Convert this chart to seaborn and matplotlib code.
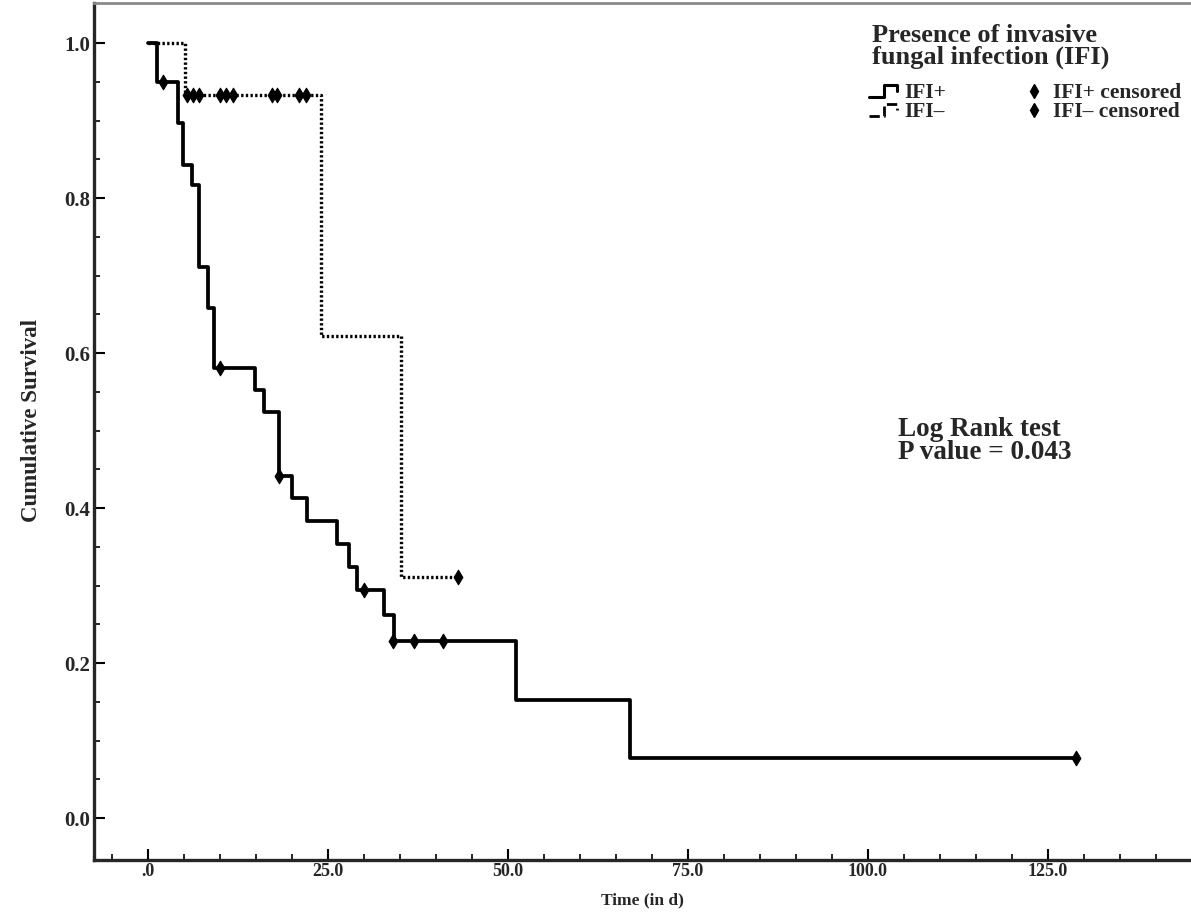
import numpy as np
import pandas as pd
import matplotlib
matplotlib.use("Agg")
import matplotlib.pyplot as plt
from matplotlib.lines import Line2D
from matplotlib.legend_handler import HandlerBase
import seaborn as sns

# Kaplan-Meier estimates (time in days, cumulative survival)
pos_times = [0.0, 1.2, 4.2, 4.9, 6.1, 7.1, 8.3, 9.2, 14.9, 16.1, 18.2, 20.0, 22.1,
             26.3, 27.9, 29.0, 32.8, 34.2, 51.1, 67.0, 128.9]
pos_surv = [1.000, 0.950, 0.897, 0.843, 0.817, 0.711, 0.658, 0.581, 0.552, 0.524,
            0.441, 0.413, 0.383, 0.354, 0.324, 0.294, 0.262, 0.229, 0.152, 0.077, 0.077]
pos_cens_t = [2.1, 10.0, 18.2, 30.0, 34.1, 37.0, 41.0, 128.9]
pos_cens_s = [0.950, 0.581, 0.441, 0.294, 0.229, 0.229, 0.229, 0.077]

neg_times = [0.0, 5.1, 24.1, 35.1, 43.1]
neg_surv = [1.000, 0.933, 0.622, 0.311, 0.311]
neg_cens_t = [5.4, 6.2, 7.1, 10.0, 10.8, 11.8, 17.2, 17.9, 21.0, 21.9, 43.1]
neg_cens_s = [0.933] * 10 + [0.311]

x_ticks = [0, 25, 50, 75, 100, 125]
x_ticklabels = [".0", "25.0", "50.0", "75.0", "100.0", "125.0"]
y_ticks = [0.0, 0.2, 0.4, 0.6, 0.8, 1.0]
y_ticklabels = ["0.0", "0.2", "0.4", "0.6", "0.8", "1.0"]

sns.set_style("ticks")
plt.rcParams["font.family"] = ["Liberation Serif", "DejaVu Serif"]
plt.rcParams["font.weight"] = "bold"

curves = pd.concat([
    pd.DataFrame({"time": pos_times, "surv": pos_surv, "group": "IFI+"}),
    pd.DataFrame({"time": neg_times, "surv": neg_surv, "group": "IFI–"}),
])
censored = pd.concat([
    pd.DataFrame({"time": pos_cens_t, "surv": pos_cens_s, "group": "IFI+ censored"}),
    pd.DataFrame({"time": neg_cens_t, "surv": neg_cens_s, "group": "IFI– censored"}),
])

fig = plt.figure(figsize=(11.91, 9.13), dpi=100)
ax = fig.add_axes([0.0789, 0.058, 0.9211, 0.9387])

sns.lineplot(data=curves[curves.group == "IFI+"], x="time", y="surv", ax=ax,
             estimator=None, drawstyle="steps-post", color="black", linewidth=2.7,
             legend=False)
sns.lineplot(data=curves[curves.group == "IFI–"], x="time", y="surv", ax=ax,
             estimator=None, drawstyle="steps-post", color="black", linewidth=2.4,
             linestyle=(0, (0.7, 0.7)), legend=False)
sns.scatterplot(data=censored, x="time", y="surv", ax=ax, marker="d", s=55,
                color="black", edgecolor="black", linewidth=0.8, legend=False,
                zorder=5)

ax.set_xlim(-7.5, 144.9)
ax.set_ylim(-0.0542, 1.0516)
ax.set_xticks(x_ticks)
ax.set_xticklabels(x_ticklabels)
ax.set_yticks(y_ticks)
ax.set_yticklabels(y_ticklabels)
ax.set_xticks(np.arange(-5, 145, 5), minor=True)
ax.set_yticks(np.arange(0, 1.05, 0.05), minor=True)
ax.tick_params(axis="both", which="major", direction="in", length=8, width=1.5,
               color="black")
ax.tick_params(axis="x", which="major", labelsize=13, pad=2)
ax.tick_params(axis="y", which="major", labelsize=15, pad=3)
ax.tick_params(axis="both", which="minor", direction="in", length=4, width=1.2,
               color="black")
for lab in ax.get_xticklabels() + ax.get_yticklabels():
    lab.set_fontweight("bold")

ax.set_xlabel("Time (in d)", fontsize=12.5, fontweight="bold", labelpad=9)
ax.set_ylabel("Cumulative Survival", fontsize=16.5, fontweight="bold")
ax.yaxis.set_label_coords(-0.0474, 0.513)

ax.spines["left"].set_linewidth(2.4)
ax.spines["bottom"].set_linewidth(2.4)
ax.spines["right"].set_visible(False)
ax.spines["top"].set_color("#8a8a8a")
ax.spines["top"].set_linewidth(2)

ax.text(898 / 1191, 1 - 417 / 913, "Log Rank test\nP value = 0.043",
        transform=fig.transFigure, fontsize=19.5, fontweight="bold",
        va="top", ha="left", linespacing=0.92)

fig.text(872 / 1191, 1 - 24 / 913, "Presence of invasive\nfungal infection (IFI)",
         fontsize=19, fontweight="bold", va="top", ha="left", linespacing=0.9)


class StepHandler(HandlerBase):
    def create_artists(self, legend, orig_handle, xdescent, ydescent, width,
                       height, fontsize, trans):
        x0, w, h = -xdescent, width, height
        xs = [x0, x0 + 0.45 * w, x0 + 0.45 * w, x0 + 0.85 * w, x0 + 0.85 * w]
        ys = [0.1 * h, 0.1 * h, 0.85 * h, 0.85 * h, 0.45 * h]
        ys = [y - ydescent for y in ys]
        line = Line2D(xs, ys, color="black", linewidth=orig_handle.get_linewidth(),
                      linestyle=orig_handle.get_linestyle(), transform=trans)
        return [line]


h_pos = Line2D([], [], color="black", linewidth=2.2)
h_neg = Line2D([], [], color="black", linewidth=2.0, linestyle=(0, (0.7, 0.7)))
h_pc = Line2D([], [], color="black", marker="d", markersize=7, linestyle="none")
h_nc = Line2D([], [], color="black", marker="d", markersize=7, linestyle="none")

leg = fig.legend([h_pos, h_neg, h_pc, h_nc],
                 ["IFI+", "IFI–", "IFI+ censored", "IFI– censored"],
                 handler_map={h_pos: StepHandler(), h_neg: StepHandler()},
                 ncol=2, loc="upper left", bbox_to_anchor=(854 / 1191, 1 - 68 / 913),
                 frameon=False, prop={"size": 15.5, "weight": "bold"},
                 handlelength=1.5, handletextpad=0.15, columnspacing=3.3,
                 labelspacing=-0.05, borderpad=0.2)

fig.savefig("out.png", dpi=100)
